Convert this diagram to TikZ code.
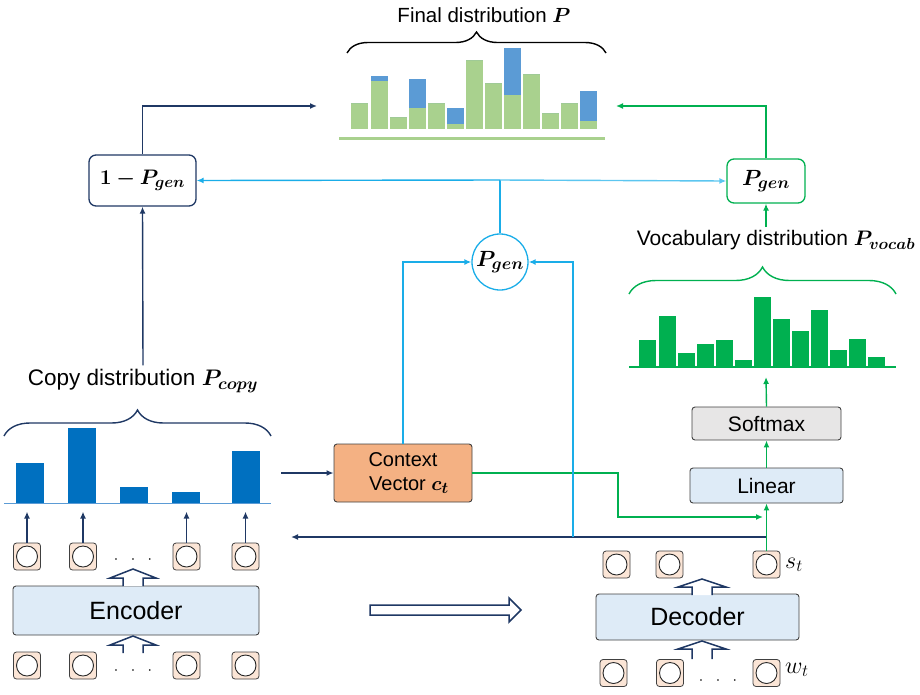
\documentclass[tikz,border=0pt]{standalone}
\usepackage{fix-cm}
\usepackage{amsmath}
\usepackage{bm}
\usepackage{fontspec}
\setmainfont{Liberation Sans}
\usetikzlibrary{arrows.meta,decorations.pathreplacing}
\definecolor{navy}{HTML}{1F3864}
\definecolor{cyanc}{HTML}{1AADE8}
\definecolor{cyanl}{HTML}{5CC6F0}
\definecolor{greenc}{HTML}{00B050}
\definecolor{lgreen}{HTML}{A9D18E}
\definecolor{mblue}{HTML}{5B9BD5}
\definecolor{cblue}{HTML}{0070C0}
\definecolor{peach}{HTML}{F4B183}
\definecolor{tokfill}{HTML}{FBE5D6}
\definecolor{boxblue}{HTML}{DEEBF7}
\definecolor{grayfill}{HTML}{E7E6E6}
\newcommand{\bsub}[2]{\mbox{\fontsize{#1}{#1}\selectfont\boldmath$#2$}}
\newcommand{\isub}[2]{\mbox{\fontsize{#1}{#1}\selectfont$#2$}}
\tikzset{
  tip/.style={-{Latex[length=7pt,width=6pt]}},
  navl/.style={draw=navy,line width=1.4pt},
  cyl/.style={draw=cyanc,line width=1.4pt},
  grl/.style={draw=greenc,line width=1.4pt},
  tok/.style={draw=black!75,fill=tokfill,rounded corners=3pt,minimum size=27pt,inner sep=0pt,line width=0.8pt,
    path picture={\draw[line width=0.9pt,fill=white,draw=black!85] (path picture bounding box.center) circle (10.5pt);}},
  lbl/.style={inner sep=0pt},
  procbox/.style={draw=black!75,rounded corners=3pt,line width=0.9pt,inner sep=0pt,font=\fontsize{20}{23}\selectfont},
  hollow/.style={draw=navy,fill=white,line width=1.5pt,line join=miter},
  brc/.style={decorate,decoration={brace,amplitude=#1},line width=1.4pt},
}
\begin{document}
\begin{tikzpicture}[x=1pt,y=-1pt]
\useasboundingbox (0,0) rectangle (920,694);

% ---------- Final distribution ----------
\node[lbl,font=\fontsize{20.5}{24}\selectfont] (ftitle) at (484,15) {Final distribution $\bm{P}$};
\draw[brc=21pt,draw=black] (347,53) -- (606,53);
\foreach \x/\g/\b in {351/103/103,371/81/76,390/117/117,409/108/79,428/103/103,447/124/108,466/60/60,485/83/83,504/95/48,523/74/74,542/113/113,561/103/103,580/121/91}{
  \fill[lgreen] (\x,129) rectangle (\x+17,\g);
  \fill[mblue] (\x,\g) rectangle (\x+17,\b);
}
\draw[lgreen,line width=3pt] (339,138) -- (605,138);
\coordinate (fl) at (317,106);
\coordinate (fr) at (616,106);

% ---------- 1 - Pgen ----------
\node[draw=navy,rounded corners=7pt,line width=1.3pt,minimum width=107pt,minimum height=51pt,inner sep=0pt,font=\fontsize{21}{24}\selectfont] (omp) at (142.5,180.5) {$\bm{1-P}_{\bsub{16}{gen}}$};
% ---------- Pgen box ----------
\node[draw=greenc,rounded corners=7pt,line width=1.3pt,minimum width=78pt,minimum height=44pt,inner sep=0pt,font=\fontsize{22}{25}\selectfont] (pgb) at (766,181) {$\bm{P}_{\bsub{17}{gen}}$};
% ---------- Pgen circle ----------
\node[draw=cyanc,circle,line width=1.3pt,minimum size=56pt,inner sep=0pt,font=\fontsize{22}{25}\selectfont] (pgc) at (500,262) {$\bm{P}_{\bsub{17}{gen}}$};

% ---------- Vocabulary distribution ----------
\node[lbl,font=\fontsize{21}{24}\selectfont] (vtitle) at (776,240) {Vocabulary distribution $\bm{P}_{\bsub{16}{vocab}}$};
\draw[brc=27pt,draw=greenc] (629,294) -- (896,294);
\foreach \x/\t in {639/340,659/316,678/353,697/344,716/340,735/360,754/297,773/319,792/331,811/310,830/350,849/339,868/357}{
  \fill[greenc] (\x,366) rectangle (\x+17,\t);
}
\draw[greenc,line width=2.5pt] (629,367) -- (896,367);
\coordinate (vb) at (766,377);

% ---------- Copy distribution ----------
\node[lbl,font=\fontsize{22.5}{26}\selectfont] (ctitle) at (143,381) {Copy distribution $\bm{P}_{\bsub{17}{copy}}$};
\draw[brc=26pt,draw=navy] (4,436) -- (271,436);
\foreach \x/\t in {16/463,68/428,120/487,172/492,232/451}{
  \fill[cblue] (\x,503) rectangle (\x+28,\t);
}
\draw[mblue,line width=1pt] (4,503) -- (271,503);

% ---------- Context vector ----------
\node[procbox,fill=peach,minimum width=138pt,minimum height=58pt,align=center] (ctx) at (403,473) {Context\\[1pt]\hspace*{12pt}Vector $\bm{c}_{\bsub{16}{t}}$};

% ---------- Linear / Softmax ----------
\node[procbox,fill=boxblue,minimum width=153pt,minimum height=35pt,font=\fontsize{21}{24}\selectfont] (lin) at (766.5,485.5) {Linear};
\node[procbox,fill=grayfill,minimum width=149pt,minimum height=33pt,font=\fontsize{21}{24}\selectfont] (smx) at (766.5,423.5) {Softmax};

% ---------- Encoder ----------
\node[procbox,fill=boxblue,minimum width=246pt,minimum height=49pt,font=\fontsize{25}{28}\selectfont] (enc) at (136,610.5) {Encoder};
\node[tok] (eh1) at (27,556.5) {};
\node[tok] (eh2) at (83,556.5) {};
\node[tok] (eh3) at (186.5,556.5) {};
\node[tok] (eh4) at (245.5,556.5) {};
\node[tok] (ei1) at (27,665.5) {};
\node[tok] (ei2) at (83,665.5) {};
\node[tok] (ei3) at (186.5,665.5) {};
\node[tok] (ei4) at (245.5,665.5) {};
\node[font=\fontsize{16}{18}\selectfont] (edot1) at (133,560) {$\cdot\;\;\cdot\;\;\cdot$};
\node[font=\fontsize{16}{18}\selectfont] (edot2) at (133,671) {$\cdot\;\;\cdot\;\;\cdot$};
\draw[hollow] (123,586) -- (123,578) -- (110,578) -- (133,569) -- (156,578) -- (143,578) -- (143,586);
\draw[hollow] (123,653) -- (123,645) -- (110,645) -- (133,636) -- (156,645) -- (143,645) -- (143,653);

% ---------- Decoder ----------
\node[procbox,fill=boxblue,minimum width=203pt,minimum height=46pt,font=\fontsize{25}{28}\selectfont] (dec) at (697.5,617) {Decoder};
\node[tok] (dh1) at (616.5,564.5) {};
\node[tok] (dh2) at (669.5,564.5) {};
\node[tok] (dh3) at (766.5,564.5) {};
\node[tok] (dw1) at (613.5,673) {};
\node[tok] (dw2) at (670,673) {};
\node[tok] (dw3) at (766.5,673) {};
\node[font=\fontsize{16}{18}\selectfont] (ddot) at (718,681) {$\cdot\;\;\cdot\;\;\cdot$};
\node[anchor=west,font=\fontsize{24}{27}\selectfont,inner sep=0pt] (st) at (785,565) {$s_{\isub{17}{t}}$};
\node[anchor=west,font=\fontsize{24}{27}\selectfont,inner sep=0pt] (wt) at (785,670) {$w_{\isub{17}{t}}$};
\draw[hollow] (692,595) -- (692,587) -- (678,587) -- (702,579) -- (726,587) -- (712,587) -- (712,595);
\draw[hollow] (692,659) -- (692,649) -- (678,649) -- (702,641) -- (726,649) -- (712,649) -- (712,659);

% ---------- big hollow arrow ----------
\draw[hollow] (370,605) -- (509,605) -- (509,598) -- (521,610) -- (509,622) -- (509,615) -- (370,615) -- cycle;

% ---------- connectors ----------
\foreach \n in {eh1,eh2,eh3,eh4}{ \draw[navl,tip] (\n.north) -- ++(0,-31); }
\draw[navl,tip] (ctitle.north) ++(0,-4) -- (omp.south);
\draw[navl,tip] (omp.north) |- (fl);
\draw[grl,tip] (pgb.north) |- (fr);
\draw[grl,tip] (vtitle.north -| pgb.south) ++(0,-3) -- (pgb.south);
\draw[grl,tip] (smx.north) -- (vb);
\draw[grl,tip] (lin.north) -- (smx.south);
\draw[grl,tip] (dh3.north) -- (dh3.north |- lin.south);
\coordinate (cj) at (763,517);
\draw[grl,tip] (ctx.east) -- (618,473) -- (618,517) -- (cj);
\coordinate (stj) at (766,537);
\coordinate (encback) at (291,537);
\draw[navl,tip] (stj) -- (encback);
\coordinate (cpo) at (281,473);
\draw[navl,tip] (cpo) -- (ctx.west);
\coordinate (cyj) at (500,180);
\draw[cyl] (pgc.north) -- (cyj);
\draw[cyl,tip] (cyj) -- (omp.east);
\draw[cyl,draw=cyanl,tip] (cyj) -- (pgb.west);
\draw[cyl,tip] (ctx.north) |- (pgc.west);
\coordinate (sj) at (573,537);
\draw[cyl,tip] (sj) |- (pgc.east);
\end{tikzpicture}
\end{document}
